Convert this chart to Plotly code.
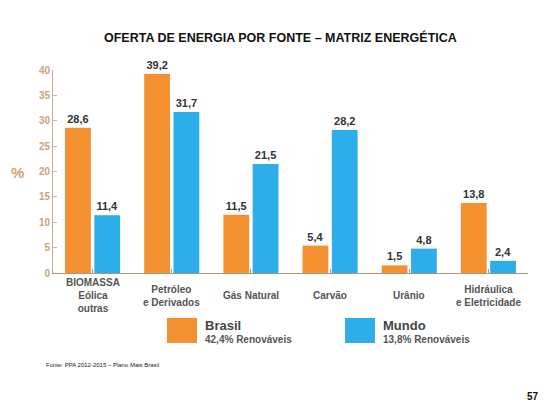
import plotly.graph_objects as go

categories = ["BIOMASSA<br>Eólica<br>outras", "Petróleo<br>e Derivados", "Gás Natural",
              "Carvão", "Urânio", "Hidráulica<br>e Eletricidade"]
brasil = [28.6, 39.2, 11.5, 5.4, 1.5, 13.8]
mundo = [11.4, 31.7, 21.5, 28.2, 4.8, 2.4]
brasil_labels = ["28,6", "39,2", "11,5", "5,4", "1,5", "13,8"]
mundo_labels = ["11,4", "31,7", "21,5", "28,2", "4,8", "2,4"]
series_names = ["Brasil", "Mundo"]
series_sub = ["42,4% Renováveis", "13,8% Renováveis"]
y_ticks = [0, 5, 10, 15, 20, 25, 30, 35, 40]

ORANGE = "#F39130"
BLUE = "#2DAEEA"
TAN = "#C9A47E"
DARK = "#333333"
GRAY = "#555555"
FONT = "Liberation Sans, Arial, sans-serif"

fig = go.Figure()
for name, vals, labs, col in [(series_names[0], brasil, brasil_labels, ORANGE),
                              (series_names[1], mundo, mundo_labels, BLUE)]:
    fig.add_trace(go.Bar(
        x=list(range(len(categories))), y=vals, name=name,
        marker=dict(color=col, line=dict(width=0)),
        text=labs, textposition="outside", cliponaxis=False,
        textfont=dict(family=FONT, size=11, color=DARK),
        texttemplate="<b>%{text}</b>",
        showlegend=False,
    ))

fig.update_layout(
    width=557, height=419,
    margin=dict(l=53, r=29, t=70, b=146),
    paper_bgcolor="white", plot_bgcolor="white",
    barmode="group", bargap=0.26, bargroupgap=0.12,
    font=dict(family=FONT),
)
fig.update_xaxes(
    range=[-0.5, len(categories) - 0.5],
    tickmode="array", tickvals=list(range(len(categories))), ticktext=[""] * len(categories),
    tickson="boundaries", ticks="inside", ticklen=4, tickcolor="#999999",
    showline=True, linecolor="#A89880", linewidth=1,
    showgrid=False, zeroline=False, fixedrange=True,
)
fig.update_yaxes(
    range=[0, 40], tickvals=y_ticks,
    ticktext=["<b>%d</b>" % v for v in y_ticks],
    ticks="inside", ticklen=4, tickcolor="#CDB9A2",
    tickfont=dict(family=FONT, size=10, color=TAN),
    showline=True, linecolor="#C4AE95", linewidth=1,
    showgrid=False, zeroline=False,
)

# category labels, vertically centred
for i, c in enumerate(categories):
    fig.add_annotation(x=i, xref="x", y=-0.113, yref="paper", text="<b>" + c + "</b>",
                       showarrow=False, yanchor="middle", xanchor="center",
                       font=dict(family=FONT, size=10, color=GRAY))

# title
fig.add_annotation(text="<b>OFERTA DE ENERGIA POR FONTE – MATRIZ ENERGÉTICA</b>",
                   xref="paper", yref="paper", x=(280 - 53) / 475, y=1 + (70 - 37) / 203,
                   showarrow=False, xanchor="center", yanchor="middle",
                   font=dict(family=FONT, size=12.5, color="#111111"))

# % axis label
fig.add_annotation(text="<b>%</b>", xref="paper", yref="paper",
                   x=(17 - 53) / 475, y=(273 - 172) / 203, showarrow=False,
                   xanchor="center", yanchor="middle",
                   font=dict(family=FONT, size=15, color="#D9A06E"))

# legend (custom)
legend_x = [167, 345]
for lx, col, nm, sub in zip(legend_x, [ORANGE, BLUE], series_names, series_sub):
    fig.add_shape(type="rect", xref="paper", yref="paper",
                  x0=(lx - 53) / 475, x1=(lx + 30 - 53) / 475,
                  y0=(273 - 343) / 203, y1=(273 - 318) / 203,
                  fillcolor=col, line=dict(width=0))
    fig.add_annotation(text="<b>" + nm + "</b>", xref="paper", yref="paper",
                       x=(lx + 36 - 53) / 475, y=(273 - 325) / 203, showarrow=False,
                       xanchor="left", yanchor="middle",
                       font=dict(family=FONT, size=13, color="#444444"))
    fig.add_annotation(text="<b>" + sub + "</b>", xref="paper", yref="paper",
                       x=(lx + 36 - 53) / 475, y=(273 - 339) / 203, showarrow=False,
                       xanchor="left", yanchor="middle",
                       font=dict(family=FONT, size=10, color="#555555"))

# footnote and page number
fig.add_annotation(text="Fonte: PPA 2012-2015 – Plano Mais Brasil", xref="paper", yref="paper",
                   x=(44 - 53) / 475, y=(273 - 365) / 203, showarrow=False,
                   xanchor="left", yanchor="middle",
                   font=dict(family=FONT, size=6, color="#222222"))
fig.add_annotation(text="<b>57</b>", xref="paper", yref="paper",
                   x=(541 - 53) / 475, y=(273 - 396) / 203, showarrow=False,
                   xanchor="right", yanchor="middle",
                   font=dict(family=FONT, size=10, color="#111111"))

fig.write_html("out.html", config={"displayModeBar": False},
               post_script="document.body.style.margin='0';")
